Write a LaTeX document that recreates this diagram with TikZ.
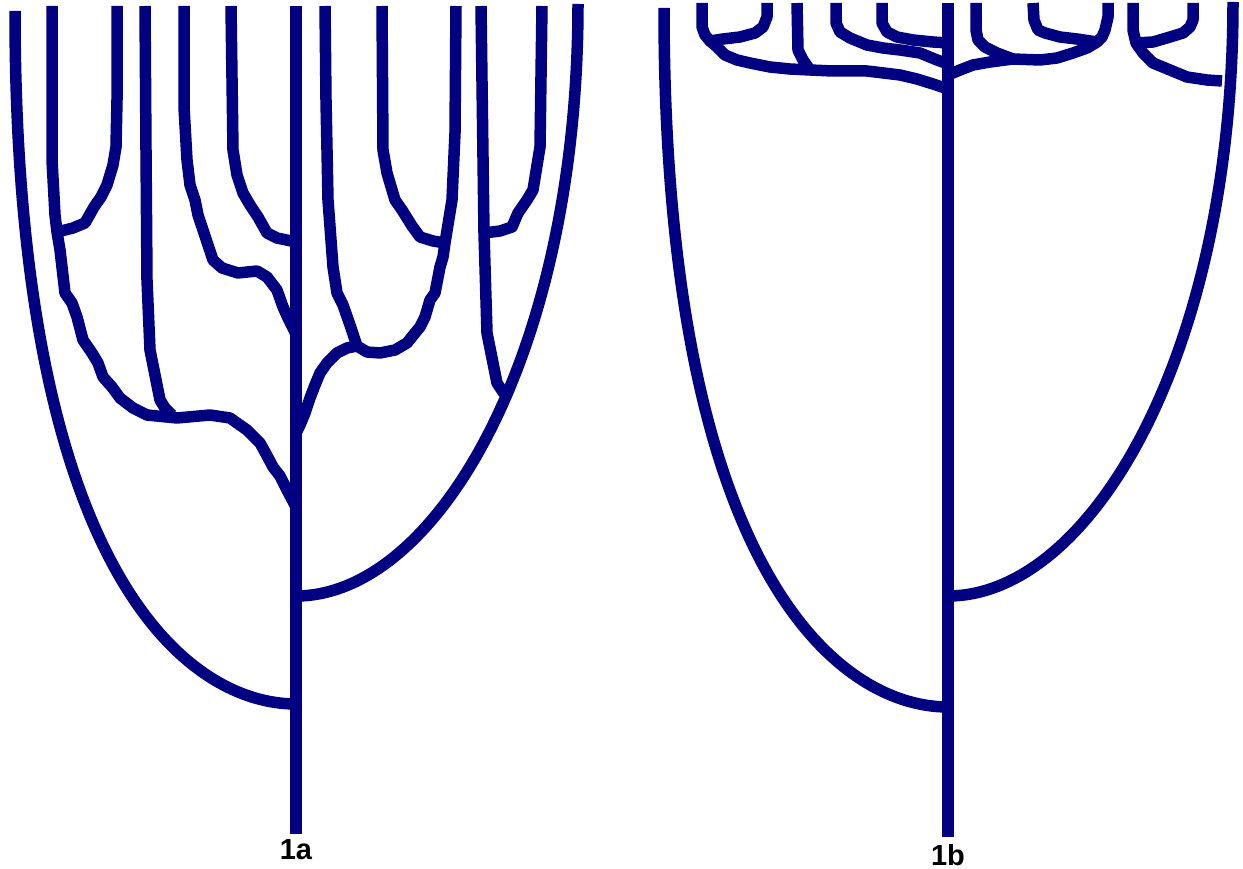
\documentclass[tikz,border=0pt]{standalone}
\usepackage{fontspec}
\setmainfont{Liberation Sans}
\definecolor{treeblue}{RGB}{0,0,128}
\begin{document}
\begin{tikzpicture}[x=1pt,y=-1pt,
  branch/.style={draw=treeblue,line width=11.5pt,line join=round,line cap=butt},
  lbl/.style={font=\fontsize{29}{30}\selectfont\bfseries,text=black,anchor=base,inner sep=0pt}]
\useasboundingbox (0,0) rectangle (1243,869);
% ---------- tree 1a ----------
\coordinate (Ta) at (296,6);
\coordinate (Ba) at (296,834);
\coordinate (jL) at (296,704);
\coordinate (jR) at (296,596);
\coordinate (jA) at (296,507);
\coordinate (jH) at (296,433);
\coordinate (jD) at (296,334);
\coordinate (jE) at (296,242);
\coordinate (jAB) at (57,232);
\coordinate (jAC) at (172,415);
\coordinate (jFH) at (357,346);
\coordinate (jGH) at (445,243);
\coordinate (jIR) at (508,396);
\coordinate (jIJ) at (484,233);
\path[branch] (Ta) -- (Ba);
\path[branch] (15,11) .. controls (15,570) and (186,704) .. (jL);
\path[branch] (578,4) .. controls (578,355) and (436,596) .. (jR);
% lineage A
\path[branch] (52,6) -- (52,160) -- (55,215) -- (jAB) -- (60,250) -- (65,293) -- (72,303) -- (77,317) -- (83,340) -- (92,353) -- (98,363) -- (103,377) -- (112,387) -- (120,398) -- (133,408) -- (147,415) -- (177,418) -- (210,415) -- (230,418) -- (247,430) -- (260,443) -- (265,452) -- (273,467) -- (280,476) -- (287,490) -- (jA);
% B
\path[branch] (117,6) -- (117,100) -- (116,147) -- (113,165) -- (107,185) -- (101,197) -- (94,207) -- (85,223) -- (73,228) -- (jAB);
% C
\path[branch] (145,6) -- (146,150) -- (147,280) -- (150,350) -- (155,375) -- (160,400) -- (165,408) -- (jAC);
% D
\path[branch] (184,6) -- (184,107) -- (187,160) -- (190,185) -- (195,200) -- (198,215) -- (204,233) -- (208,245) -- (213,260) -- (222,268) -- (238,273) -- (257,271) -- (267,277) -- (277,290) -- (283,307) -- (288,318) -- (jD);
% E
\path[branch] (231,6) -- (233,150) -- (237,175) -- (243,193) -- (250,205) -- (258,217) -- (267,233) -- (277,238) -- (jE);
% F
\path[branch] (325,6) -- (326,100) -- (328,200) -- (333,267) -- (337,293) -- (343,305) -- (350,325) -- (jFH);
% G
\path[branch] (382,6) -- (383,150) -- (387,173) -- (395,200) -- (402,210) -- (412,226) -- (420,237) -- (433,241) -- (jGH);
% H
\path[branch] (456,6) -- (455,133) -- (452,200) -- (jGH) -- (443,257) -- (440,267) -- (435,293) -- (430,300) -- (425,317) -- (420,327) -- (415,333) -- (407,343) -- (395,350) -- (380,353) -- (367,352) -- (jFH) -- (347,348) -- (337,353) -- (327,363) -- (320,373) -- (315,385) -- (310,398) -- (305,413) -- (300,425) -- (jH);
% I
\path[branch] (481,6) -- (jIJ) -- (487,333) -- (497,383) -- (503,392) -- (jIR);
% J
\path[branch] (542,6) -- (540,147) -- (533,190) -- (527,200) -- (518,213) -- (512,227) -- (500,231) -- (jIJ);
\node[lbl] (la) at (296,859) {1a};
% ---------- tree 1b ----------
\coordinate (Tb) at (948,3);
\coordinate (Bb) at (948,837);
\coordinate (kL) at (948,707);
\coordinate (kR) at (948,596);
\coordinate (kK) at (948,89);
\coordinate (kR2) at (948,75);
\coordinate (kN) at (948,64);
\coordinate (kO) at (948,43);
\coordinate (kKL) at (710,41);
\coordinate (kKM) at (810,70);
\coordinate (kPR) at (1013,59);
\coordinate (kQR) at (1097,42);
\coordinate (kST) at (1136,43);
\path[branch] (Tb) -- (Bb);
\path[branch] (664,8) .. controls (664,570) and (838,707) .. (kL);
\path[branch] (1233,2) .. controls (1233,355) and (1090,596) .. (kR);
% K
\path[branch] (702,3) -- (702,27) -- (705,35) -- (kKL) -- (717,47) -- (725,55) -- (737,60) -- (750,63) -- (770,67) -- (790,69) -- (kKM) -- (833,71) -- (867,71) -- (900,75) -- (917,79) -- (933,84) -- (kK);
% L
\path[branch] (767,3) -- (767,17) -- (763,27) -- (755,33) -- (740,37) -- (723,39) -- (kKL);
% M
\path[branch] (797,3) -- (798,50) -- (803,60) -- (kKM);
% N
\path[branch] (836,3) -- (836,23) -- (840,32) -- (850,38) -- (867,45) -- (883,48) -- (900,50) -- (920,53) -- (937,60) -- (kN);
% O
\path[branch] (882,3) -- (882,23) -- (887,32) -- (897,37) -- (913,40) -- (933,42) -- (kO);
% P
\path[branch] (976,3) -- (976,30) -- (978,40) -- (985,47) -- (997,53) -- (kPR);
% Q
\path[branch] (1033,3) -- (1034,20) -- (1038,30) -- (1045,33) -- (1060,37) -- (1077,39) -- (kQR);
% R
\path[branch] (1108,3) -- (1108,17) -- (1105,30) -- (1102,37) -- (kQR) -- (1087,48) -- (1073,53) -- (1057,58) -- (1040,60) -- (kPR) -- (990,62) -- (973,65) -- (960,70) -- (kR2);
% S
\path[branch] (1133,3) -- (1133,30) -- (kST) -- (1143,53) -- (1153,63) -- (1170,70) -- (1187,77) -- (1207,80) -- (1222,81);
% T
\path[branch] (1193,3) -- (1193,20) -- (1190,27) -- (1183,33) -- (1170,37) -- (1153,42) -- (kST);
\node[lbl] (lb) at (948,865) {1b};
\end{tikzpicture}
\end{document}
